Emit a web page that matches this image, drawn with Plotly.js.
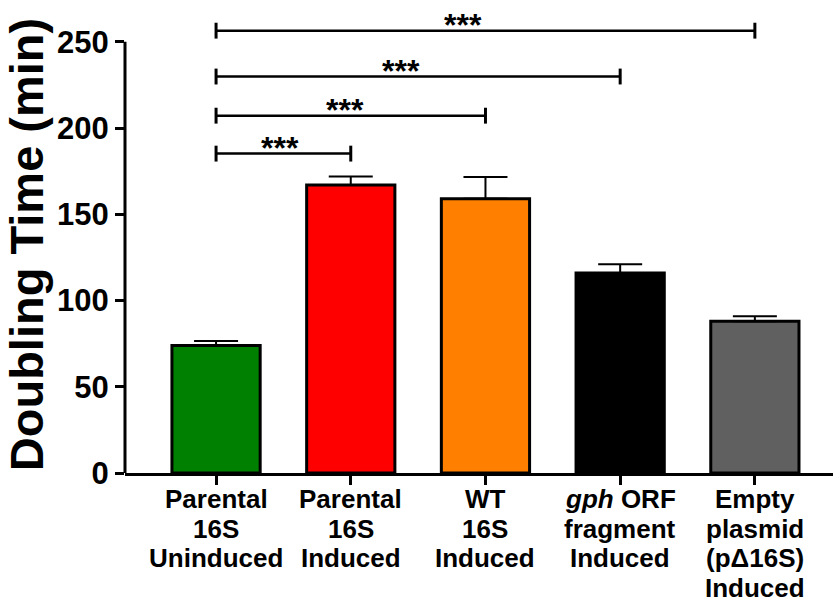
<!DOCTYPE html>
<html>
<head>
<meta charset="utf-8">
<script src="https://cdn.plot.ly/plotly-3.0.1.min.js"></script>
<style>html,body{margin:0;padding:0;background:#fff;}</style>
</head>
<body>
<div id="chart" style="width:833px;height:605px;"></div>
<script>
// ---- data ----
const categories = ["Parental 16S Uninduced", "Parental 16S Induced", "WT 16S Induced", "gph ORF fragment Induced", "Empty plasmid (pΔ16S) Induced"];
const labelLines = [
  ["Parental", "16S", "Uninduced"],
  ["Parental", "16S", "Induced"],
  ["WT", "16S", "Induced"],
  ["<i>gph</i> ORF", "fragment", "Induced"],
  ["Empty", "plasmid", "(pΔ16S)", "Induced"]
];
const doublingTime = [74, 167, 159, 116, 88];
const errorUpper = [2.5, 5, 12.6, 5, 2.9];
const barColors = ["#008000", "#ff0000", "#ff8000", "#000000", "#606060"];
const yTicks = [0, 50, 100, 150, 200, 250];
// significance comparisons: group 0 vs group (k)
const compTargets = [1, 2, 3, 4];
const compLevels = [185.2, 207.2, 229.9, 256.5];
const compLabels = ["***", "***", "***", "***"];
const compLabelX = [0.475, 0.958, 1.373, 1.834];

// ---- build ----
const xs = categories.map((c, i) => i);

const trace = {
  type: "bar",
  x: xs,
  y: doublingTime,
  width: 0.655,
  marker: {color: barColors, line: {color: "#000", width: 3}},
  error_y: {
    type: "data", symmetric: false,
    array: errorUpper, arrayminus: errorUpper.map(() => 0),
    color: "#000", thickness: 2, width: 22
  },
  hoverinfo: "skip"
};

const shapes = [];
// y-axis line from 0 to 250
shapes.push({type: "line", xref: "paper", yref: "y", x0: 0, x1: 0, y0: 0, y1: yTicks[yTicks.length - 1], line: {color: "#000", width: 3}});
const tickHalf = 4.6;
compTargets.forEach((t, k) => {
  const yv = compLevels[k];
  shapes.push({type: "line", xref: "x", yref: "y", x0: 0, x1: t, y0: yv, y1: yv, line: {color: "#000", width: 2.5}});
  shapes.push({type: "line", xref: "x", yref: "y", x0: 0, x1: 0, y0: yv - tickHalf, y1: yv + tickHalf, line: {color: "#000", width: 3}});
  shapes.push({type: "line", xref: "x", yref: "y", x0: t, x1: t, y0: yv - tickHalf, y1: yv + tickHalf, line: {color: "#000", width: 3}});
});

const annotations = [];
compTargets.forEach((t, k) => {
  annotations.push({
    xref: "x", yref: "y", x: compLabelX[k], y: compLevels[k],
    text: "<b>" + compLabels[k] + "</b>", showarrow: false,
    xanchor: "center", yanchor: "middle", yshift: 6,
    font: {family: "Liberation Sans, Arial, sans-serif", size: 32, color: "#000"}
  });
});
labelLines.forEach((lines, i) => {
  lines.forEach((ln, j) => {
    annotations.push({
      xref: "x", yref: "paper", x: xs[i], y: 0,
      text: "<b>" + ln + "</b>", showarrow: false,
      xanchor: "center", yanchor: "middle", yshift: -26 - 29.7 * j,
      font: {family: "Liberation Sans, Arial, sans-serif", size: 26, color: "#000"}
    });
  });
});

const layout = {
  width: 833, height: 605,
  margin: {l: 125, r: 0, t: 16, b: 132, pad: 0},
  paper_bgcolor: "#fff", plot_bgcolor: "#fff",
  showlegend: false,
  font: {family: "Liberation Sans, Arial, sans-serif", color: "#000"},
  xaxis: {
    type: "linear", range: [-0.676, 4.58],
    tickvals: xs, showticklabels: false,
    ticks: "outside", ticklen: 9, tickwidth: 3, tickcolor: "#000",
    showline: true, linewidth: 3, linecolor: "#000",
    showgrid: false, zeroline: false, fixedrange: true
  },
  yaxis: {
    range: [0, 265],
    tickvals: yTicks, ticktext: yTicks.map(String),
    ticks: "outside", ticklen: 9, tickwidth: 3, tickcolor: "#000",
    tickfont: {size: 31, weight: "bold", family: "Liberation Sans, Arial, sans-serif"},
    showline: false, showgrid: false, zeroline: false, fixedrange: true,
    title: {text: "Doubling Time (min)", font: {size: 47, weight: "bold", family: "Liberation Sans, Arial, sans-serif"}, standoff: 2}
  },
  shapes: shapes,
  annotations: annotations
};

Plotly.newPlot("chart", [trace], layout, {displayModeBar: false, staticPlot: true});
</script>
</body>
</html>
